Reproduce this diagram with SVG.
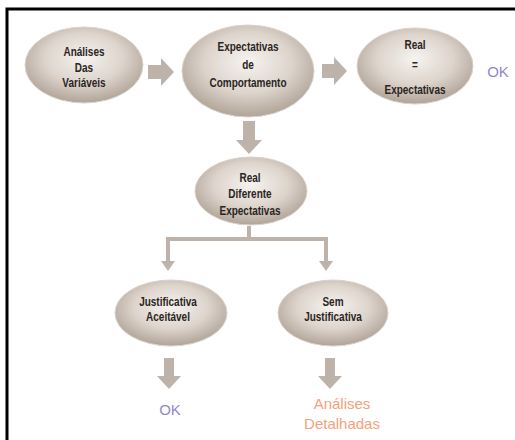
<svg xmlns="http://www.w3.org/2000/svg" width="515" height="440" viewBox="0 0 515 440">
<defs>
<radialGradient id="g" cx="0.5" cy="0.42" r="0.6" fx="0.5" fy="0.4">
<stop offset="0" stop-color="#f6f3f0"/>
<stop offset="0.55" stop-color="#ddd4cc"/>
<stop offset="1" stop-color="#ada094"/>
</radialGradient>
</defs>
<style>
.n ellipse{fill:url(#g);stroke:#d9d2cb;stroke-width:1}
.n text{font-family:"Liberation Sans",Arial,sans-serif;font-weight:bold;font-size:12.5px;fill:#2a2522;text-anchor:middle}
.ar{fill:#bdb3aa}
.ln{stroke:#bdb3aa;stroke-width:4;fill:none}
.ok{font-family:"Liberation Sans",Arial,sans-serif;font-size:15px;fill:#9488cc;text-anchor:middle}
.or{font-family:"Liberation Sans",Arial,sans-serif;font-size:15px;fill:#f4a27a;text-anchor:middle}
</style>
<rect width="515" height="440" fill="#fff"/>
<path d="M7,440 V9 H515" fill="none" stroke="#000" stroke-width="3"/>
<g id="connectors">
<path class="ar" d="M148,65 H161 V58 L174,72 L161,86 V79 H148 Z"/>
<path class="ar" d="M322,64 H334 V57 L347,71 L334,85 V78 H322 Z"/>
<path class="ar" d="M243,121 V140 H236 L249,154 L262,140 H255 V121 Z"/>
<path class="ar" d="M164,358 V376 H157 L169,389 L181,376 H174 V358 Z"/>
<path class="ar" d="M325,358 V376 H318 L330,389 L342,376 H335 V358 Z"/>
<path class="ln" d="M249,226 V239 M168,239 H326 M168,237 V262 M326,237 V262"/>
<path class="ar" d="M161,261 L168,271 L175,261 Z"/>
<path class="ar" d="M319,261 L326,271 L333,261 Z"/>
</g>
<g id="n1" class="n"><ellipse cx="84" cy="65" rx="59" ry="38"/>
<g transform="translate(84,0) scale(0.8,1)"><text x="0" y="56">Análises</text><text x="0" y="72">Das</text><text x="0" y="87">Variáveis</text></g></g>
<g id="n2" class="n"><ellipse cx="248" cy="71" rx="66" ry="46"/>
<g transform="translate(248,0) scale(0.8,1)"><text x="0" y="51">Expectativas</text><text x="0" y="69">de</text><text x="0" y="87">Comportamento</text></g></g>
<g id="n3" class="n"><ellipse cx="415" cy="66" rx="58" ry="38"/>
<g transform="translate(415,0) scale(0.8,1)"><text x="0" y="49">Real</text><text x="0" y="69">=</text><text x="0" y="94">Expectativas</text></g></g>
<g id="n4" class="n"><ellipse cx="251" cy="191" rx="56" ry="34"/>
<g transform="translate(250,0) scale(0.8,1)"><text x="0" y="182">Real</text><text x="0" y="198">Diferente</text><text x="0" y="215">Expectativas</text></g></g>
<g id="n5" class="n"><ellipse cx="171" cy="313" rx="56" ry="33"/>
<g transform="translate(168,0) scale(0.8,1)"><text x="0" y="306">Justificativa</text><text x="0" y="321">Aceitável</text></g></g>
<g id="n6" class="n"><ellipse cx="333" cy="313" rx="55" ry="33"/>
<g transform="translate(333,0) scale(0.8,1)"><text x="0" y="306">Sem</text><text x="0" y="321">Justificativa</text></g></g>
<text class="ok" x="498" y="77">OK</text>
<text class="ok" x="170" y="415">OK</text>
<text class="or" x="342" y="409">Análises</text>
<text class="or" x="342" y="429">Detalhadas</text>
</svg>
